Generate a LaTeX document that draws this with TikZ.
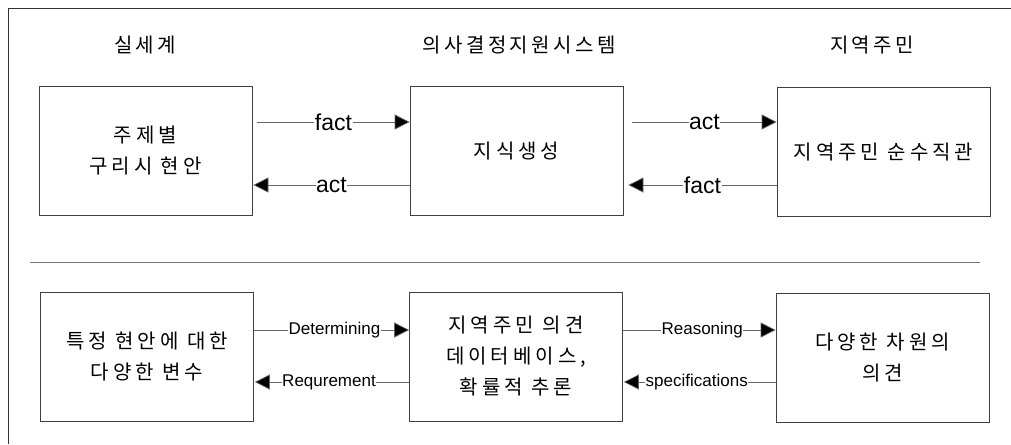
\documentclass[tikz,border=0pt]{standalone}
\usepackage{fontspec}
\setmainfont{Liberation Sans}
\newfontfamily\kr[LetterSpace=20]{Noto Sans CJK KR}
\newfontfamily\krt[LetterSpace=17]{Noto Sans CJK KR}
\usetikzlibrary{arrows.meta}
\begin{document}
\begin{tikzpicture}[x=1pt,y=-1pt,
  box/.style={draw=black!75,line width=0.7pt,minimum width=213pt,minimum height=129pt,inner sep=0pt,align=center,font=\kr\fontsize{20}{31}\selectfont},
  ttl/.style={font=\krt\fontsize{20}{22}\selectfont,inner sep=0pt},
  arr/.style={draw=black!60,line width=0.7pt,-{Triangle[length=15pt,width=15pt,fill=black]}},
  lbl/.style={fill=white,inner sep=0.5pt,font=\fontsize{23}{26}\selectfont,text=black},
  lbs/.style={fill=white,inner sep=0.5pt,font=\fontsize{17}{20}\selectfont,text=black}]
\useasboundingbox (0,0) rectangle (1011,444);
\draw[black!80,line width=1pt] (8,444) -- (8,9) -- (1011,9);
% titles
\node[ttl] (t1) at (145,45) {실세계};
\node[ttl] (t2) at (519,45) {의사결정지원시스템};
\node[ttl] (t3) at (872,45) {지역주민};
% top row
\node[box] (a1) at (145.5,151) {주제별\\구리시 현안};
\node[box] (a2) at (516.5,151) {지식생성};
\node[box] (a3) at (883.5,152) {지역주민 순수직관};
\coordinate (u1) at (0,122);
\coordinate (u2) at (0,185);
\draw[arr] ([xshift=5pt]a1.east |- u1) -- node[lbl]{fact} (a2.west |- u1);
\draw[arr] (a2.west |- u2) -- node[lbl]{act} ([xshift=1pt]a1.east |- u2);
\draw[arr] ([xshift=9pt]a2.east |- u1) -- node[lbl]{act} (a3.west |- u1);
\draw[arr] (a3.west |- u2) -- node[lbl]{fact} ([xshift=5pt]a2.east |- u2);
% divider
\coordinate (d1) at (30,262);
\coordinate (d2) at (980,262);
\draw[black!55,line width=0.7pt] (d1) -- (d2);
% bottom row
\node[box] (b1) at (147,356.5) {특정 현안에 대한\\다양한 변수};
\node[box] (b2) at (516,356.5) {지역주민 의견\\데이터베이스,\\확률적 추론};
\node[box] (b3) at (882.5,357.5) {다양한 차원의\\의견};
\coordinate (v1) at (0,330);
\coordinate (v2) at (0,382);
\draw[arr] (b1.east |- v1) -- node[lbs,xshift=3pt]{Determining} (b2.west |- v1);
\draw[arr] (b2.west |- v2) -- node[lbs,xshift=-3pt]{Requrement} ([xshift=1pt]b1.east |- v2);
\draw[arr] (b2.east |- v1) -- node[lbs,xshift=3pt]{Reasoning} (b3.west |- v1);
\draw[arr] (b3.west |- v2) -- node[lbs,xshift=-3pt]{specifications} ([xshift=1pt]b2.east |- v2);
\end{tikzpicture}
\end{document}
